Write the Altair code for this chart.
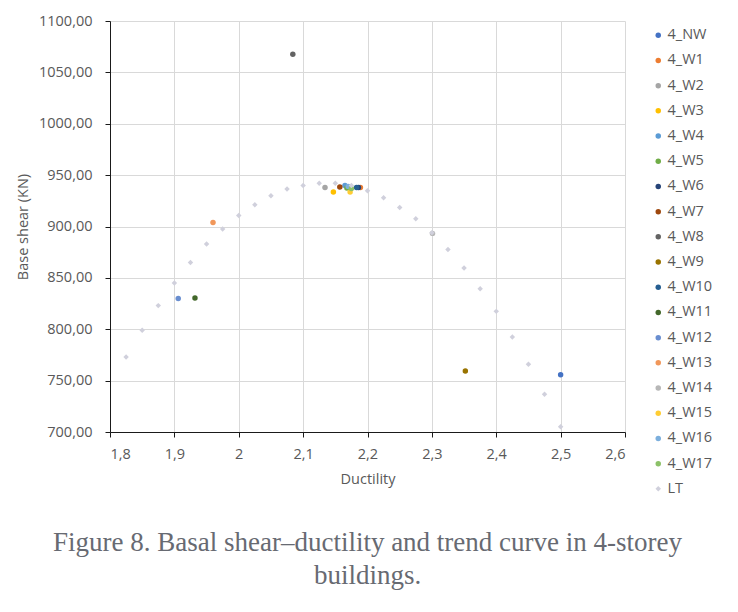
import altair as alt
import pandas as pd

# --- data ---
series = ["4_NW", "4_W1", "4_W2", "4_W3", "4_W4", "4_W5", "4_W6", "4_W7", "4_W8",
          "4_W9", "4_W10", "4_W11", "4_W12", "4_W13", "4_W14", "4_W15", "4_W16", "4_W17"]
ductility = [2.500, 2.189, 2.134, 2.147, 2.165, 2.168, 2.186, 2.157, 2.084,
             2.352, 2.183, 1.932, 1.906, 1.960, 2.301, 2.173, 2.170, 2.175]
shear = [755.7, 938.0, 938.0, 933.5, 940.0, 937.5, 938.0, 938.5, 1067.7,
         759.4, 938.0, 830.4, 830.0, 904.0, 893.3, 933.5, 939.0, 937.0]
colors = ["#4472C4", "#ED7D31", "#A5A5A5", "#FFC000", "#5B9BD5", "#70AD47", "#264478",
          "#9E480E", "#636363", "#997300", "#255E91", "#43682B", "#698ED0", "#F1975A",
          "#B7B7B7", "#FFCD33", "#7CAFDD", "#8CC168"]

lt_x = [1.825, 1.850, 1.875, 1.900, 1.925, 1.950, 1.975, 2.000, 2.025, 2.050,
        2.075, 2.100, 2.125, 2.150, 2.175, 2.200, 2.225, 2.250, 2.275, 2.300,
        2.325, 2.350, 2.375, 2.400, 2.425, 2.450, 2.475, 2.500]
lt_y = [773, 799, 823, 845, 865, 883, 897.5, 910.8, 921.2, 930,
        936.4, 940, 942.2, 942.2, 940, 934.7, 927.9, 918.6, 907.5, 894,
        877.7, 859.5, 839.4, 817.4, 792.4, 765.9, 736.7, 705.2]
lt_name = "LT"
lt_color = "#D0D0DC"

x_ticks = [1.8, 1.9, 2.0, 2.1, 2.2, 2.3, 2.4, 2.5, 2.6]
y_ticks = [700, 750, 800, 850, 900, 950, 1000, 1050, 1100]

caption = ["Figure 8. Basal shear\u2013ductility and trend curve in 4-storey", "buildings."]

# --- table ---
df = pd.concat([
    pd.DataFrame({"series": series, "x": ductility, "y": shear}),
    pd.DataFrame({"series": [lt_name] * len(lt_x), "x": lt_x, "y": lt_y}),
], ignore_index=True)

domain = series + [lt_name]
crange = colors + [lt_color]
shapes = ["circle"] * len(series) + ["diamond"]

FONT = "Open Sans"
FS = 14.5
legend = alt.Legend(title=None, orient="none", legendX=541, legendY=7,
                    labelFontSize=FS, labelColor="#595959", labelFont=FONT,
                    symbolSize=30, symbolStrokeWidth=0, rowPadding=10.2, padding=0,
                    labelOffset=2, symbolOffset=0)

chart = alt.Chart(df).mark_point(filled=True, size=30, opacity=1).encode(
    x=alt.X("x:Q", scale=alt.Scale(domain=[1.8, 2.6], nice=False),
            axis=alt.Axis(title="Ductility", values=x_ticks,
                          labelExpr="replace(format(datum.value, '.1~f'), '.', ',')")),
    y=alt.Y("y:Q", scale=alt.Scale(domain=[700, 1100], nice=False),
            axis=alt.Axis(title="Base shear (KN)", values=y_ticks,
                          labelExpr="replace(format(datum.value, '.2f'), '.', ',')")),
    color=alt.Color("series:N", scale=alt.Scale(domain=domain, range=crange),
                    sort=domain, legend=legend),
    shape=alt.Shape("series:N", scale=alt.Scale(domain=domain, range=shapes),
                    sort=domain, legend=legend),
).properties(
    width=515, height=411,
    padding={"left": 102, "top": 13, "right": 105, "bottom": 178},
    autosize=alt.AutoSizeParams(type="none"),
    title=alt.TitleParams(text=caption, orient="bottom", anchor="middle",
                          font="Liberation Serif", fontSize=27, fontWeight="normal",
                          color="#676a72", lineHeight=33, offset=34),
).configure_view(stroke=None).configure_axis(
    gridColor="#D9D9D9", gridWidth=1, domainColor="#1a1a1a", tickColor="#1a1a1a",
    tickSize=5, labelFont=FONT, labelFontSize=FS, labelColor="#595959",
    titleFont=FONT, titleFontSize=FS, titleColor="#595959", titleFontWeight="normal",
).configure_axisY(labelPadding=13, titlePadding=8).configure_axisX(labelPadding=10, titlePadding=12)

chart.save("out.html", embed_options={"renderer": "svg", "actions": False})
